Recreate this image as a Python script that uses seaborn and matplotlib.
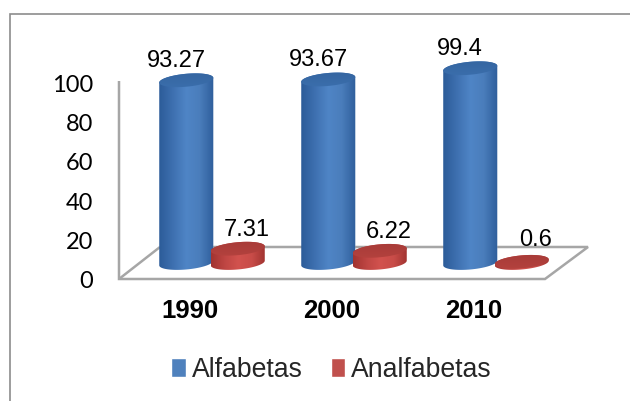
import numpy as np
import pandas as pd
import seaborn as sns
import matplotlib.pyplot as plt
from matplotlib.colors import LinearSegmentedColormap
from matplotlib.lines import Line2D
from matplotlib.patches import Polygon
from matplotlib.transforms import ScaledTranslation

years = ['1990', '2000', '2010']
alfabetas = [93.27, 93.67, 99.4]
analfabetas = [7.31, 6.22, 0.6]
yticks = [0, 20, 40, 60, 80, 100]

W, H = 630, 401
sns.set_theme(style='white')
plt.rcParams['font.family'] = ['Liberation Sans', 'DejaVu Sans']

d = pd.DataFrame({'year': years, 'Alfabetas': alfabetas, 'Analfabetas': analfabetas})
d = d.melt(id_vars='year', var_name='serie', value_name='valor')

fig = plt.figure(figsize=(W / 100, H / 100), dpi=100)
# axes placed so that value 0 is the base of the cylinders, the 3D floor sits below it
ax = fig.add_axes([119 / W, 1 - 280 / H, 469 / W, 220 / H])
ax.patch.set_visible(False)
colors = {'Alfabetas': '#4f81bd', 'Analfabetas': '#c0504d'}
sns.barplot(data=d, x='year', y='valor', hue='serie', palette=colors, width=0.725,
            saturation=1, ax=ax, zorder=1)
xlim = (-0.655, 2.648)
ylim = (-8.67, 103.6)
ax.set_xlim(xlim)
ax.set_ylim(ylim)
ax.set_xlabel('')
ax.set_ylabel('')
sns.despine(ax=ax, left=True, bottom=True)

ax.set_yticks(yticks)
ax.tick_params(axis='y', length=0, pad=18.5, labelsize=17, labelcolor='black')
ax.tick_params(axis='x', length=0, pad=14, labelsize=18.5, labelcolor='black')
for t in ax.get_yticklabels():
    t.set_fontfamily('Lato')
    t.set_transform(t.get_transform() + ScaledTranslation(0, -16.5 / 100, fig.dpi_scale_trans))
for t in ax.get_xticklabels():
    t.set_fontweight('bold')
    t.set_transform(t.get_transform() + ScaledTranslation(-22 / 100, 0, fig.dpi_scale_trans))


def px(x, y):
    return x / W, 1 - y / H


def line(xs, ys, color='#a6a6a6', lw=1.8):
    pts = [px(a, b) for a, b in zip(xs, ys)]
    fig.add_artist(Line2D([p[0] for p in pts], [p[1] for p in pts], color=color, lw=lw,
                          zorder=-1, solid_capstyle='butt', solid_joinstyle='miter'))


# page border and 3D floor / wall
line([10, 10, 630], [401, 14, 14], color='#8c8c8c', lw=1.2)
line([119, 119, 545, 588, 160], [81, 279, 279, 247, 247])
line([119, 160], [279, 247])

body_cmaps = {
    'Alfabetas': LinearSegmentedColormap.from_list('b', ['#2c5c99', '#3e70b0', '#4f85c6', '#4a7dbb', '#2f5f9c']),
    'Analfabetas': LinearSegmentedColormap.from_list('r', ['#a23431', '#bf4643', '#d2524e', '#c84c48', '#a03330']),
}
top_cmaps = {
    'Alfabetas': LinearSegmentedColormap.from_list('bt', ['#34649f', '#3c70ae']),
    'Analfabetas': LinearSegmentedColormap.from_list('rt', ['#a53a37', '#b6433f']),
}
ramp = np.linspace(0, 1, 64)
cap_h = 3.3  # half height of the ellipses in data units
tilt = 1.2
t_top = np.linspace(0, np.pi, 60)
t_low = np.linspace(np.pi, 2 * np.pi, 60)

for s, (serie, cont) in enumerate(zip(['Alfabetas', 'Analfabetas'], ax.containers)):
    for k, bar in enumerate(cont):
        value = bar.get_height()
        cx = bar.get_x() + bar.get_width() / 2
        a = bar.get_width() / 2 * 1.05
        z = 2 + s + 3 * k * 0.1
        upper = np.c_[cx + a * np.cos(t_top), value + cap_h * np.sin(t_top) + tilt * np.cos(t_top)]
        lower = np.c_[cx + a * np.cos(t_low), cap_h * np.sin(t_low) + tilt * np.cos(t_low)]
        outline = Polygon(np.r_[upper, lower], transform=ax.transData, fc='none', ec='none', zorder=z)
        ax.add_patch(outline)
        im = ax.imshow(ramp[None, :], extent=(cx - a, cx + a, -cap_h - 2, value + cap_h + 2),
                       aspect='auto', cmap=body_cmaps[serie], zorder=z, interpolation='bilinear')
        im.set_clip_path(outline)
        lower_top = np.c_[cx + a * np.cos(t_low), value + cap_h * np.sin(t_low) + tilt * np.cos(t_low)]
        cap = Polygon(np.r_[upper, lower_top], transform=ax.transData, fc='none', ec='none', zorder=z + 0.01)
        ax.add_patch(cap)
        im2 = ax.imshow(ramp[:, None], extent=(cx - a, cx + a, value - cap_h - 2, value + cap_h + 2),
                        aspect='auto', cmap=top_cmaps[serie], zorder=z + 0.01, interpolation='bilinear')
        im2.set_clip_path(cap)
        dx = -10 if s == 0 else (14 if value < 1 else 9)
        dy = 19 if value >= 1 else 22
        ax.annotate(str(value), (cx, value), xytext=(dx * 0.72, dy * 0.72), textcoords='offset points',
                    ha='center', va='center', fontsize=17, color='black', zorder=10)

ax.set_xlim(xlim)
ax.set_ylim(ylim)

handles, labels = ax.get_legend_handles_labels()
ax.legend(handles, labels, ncol=2, frameon=False, fontsize=19.2, loc='center',
          bbox_to_anchor=(331.5 / W, 1 - 370 / H), bbox_transform=fig.transFigure,
          handlelength=0.55, handleheight=0.72, handletextpad=0.22, columnspacing=1.05)

fig.savefig('out.png', dpi=100)
